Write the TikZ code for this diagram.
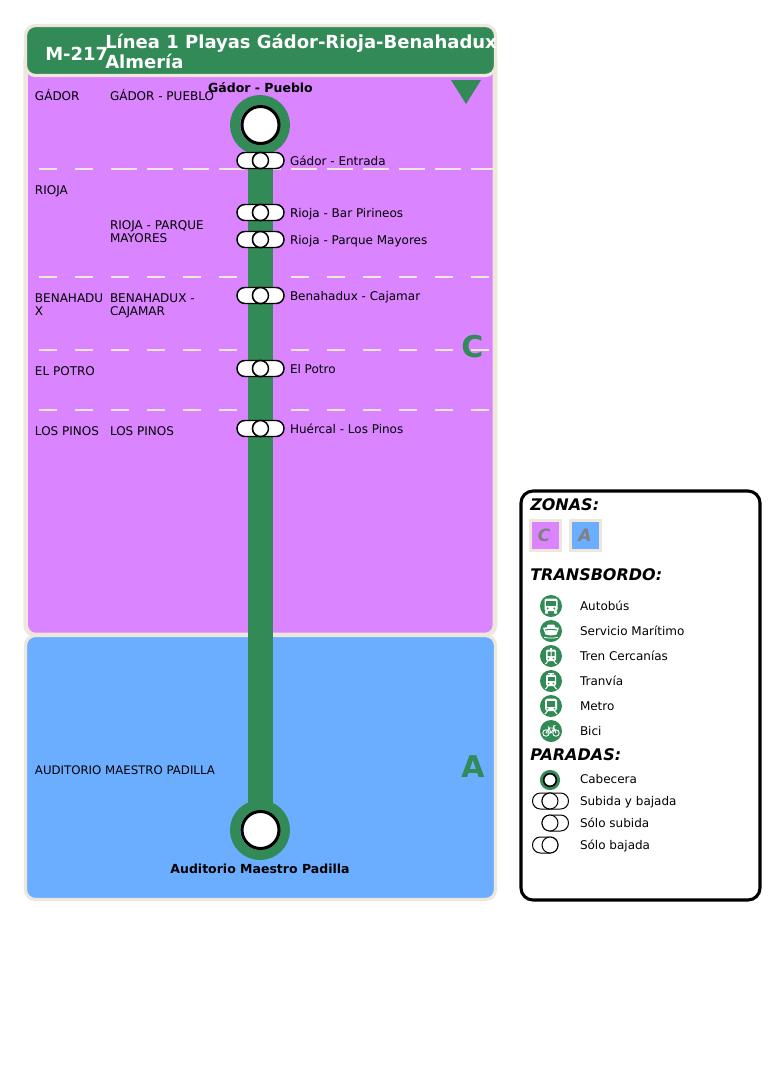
\documentclass[tikz,border=0pt]{standalone}
\usepackage{fontspec}
\setmainfont{DejaVu Sans}
\definecolor{cream}{HTML}{EFE6DC}
\definecolor{zonec}{HTML}{DA84FF}
\definecolor{zonea}{HTML}{6BAEFF}
\definecolor{lineg}{HTML}{328A56}
\newcommand{\fpx}[1]{\fontsize{\the\dimexpr#1pt*3/4\relax}{\the\dimexpr#1pt*9/10\relax}\selectfont}
\newcommand{\iconBus}[1]{\begin{scope}[shift={(#1)}]
 \fill[white,rounded corners=1.5pt] (-6.5,-7.5) rectangle (6.5,5);
 \fill[lineg] (-4.8,-4.8) rectangle (4.8,0.2);
 \fill[lineg] (-3.4,2.4) circle (1.1) (3.4,2.4) circle (1.1);
 \fill[white] (-6,5) rectangle (-3.2,7.5) (3.2,5) rectangle (6,7.5);
\end{scope}}
\newcommand{\iconShip}[1]{\begin{scope}[shift={(#1)}]
 \fill[white,rounded corners=1pt] (-4,-6.5) rectangle (4,-3);
 \fill[white] (-8,-3.2) .. controls (-3,-4.2) and (3,-4.2) .. (8,-3.2) -- (5.5,3.5) .. controls (2,4.6) and (-2,4.6) .. (-5.5,3.5) -- cycle;
 \draw[lineg,line width=.75pt] (-6,-.9) .. controls (-2,-1.8) and (2,-1.8) .. (6,-.9);
 \fill[white] (-7,5.8) .. controls (-3,7) and (3,7) .. (7,5.8) -- (7,6.6) .. controls (3,7.8) and (-3,7.8) .. (-7,6.6) -- cycle;
\end{scope}}
\newcommand{\iconTrain}[1]{\begin{scope}[shift={(#1)}]
 \fill[white] (-1,-8.5) rectangle (1,-6);
 \fill[white,rounded corners=1pt] (-5,-6.5) rectangle (5,5);
 \fill[lineg] (-3.5,-4.5) rectangle (-.5,0) (.5,-4.5) rectangle (3.5,0);
 \fill[lineg] (-2.5,2.5) circle (.9) (2.5,2.5) circle (.9);
 \draw[white,line width=.8pt] (-3,5) -- (-5.5,8) (3,5) -- (5.5,8);
\end{scope}}
\newcommand{\iconTram}[1]{\begin{scope}[shift={(#1)}]
 \draw[white,line width=.6pt] (-3,-8) -- (3,-8);
 \fill[white] (-1,-8) rectangle (1,-6);
 \fill[white,rounded corners=1.5pt] (-5,-6.5) rectangle (5,5);
 \fill[lineg] (-3.5,-4) rectangle (3.5,0);
 \fill[lineg] (-2.5,2.5) circle (.9) (2.5,2.5) circle (.9);
 \draw[white,line width=.8pt] (-3,5) -- (-5.5,8) (3,5) -- (5.5,8);
\end{scope}}
\newcommand{\iconMetro}[1]{\begin{scope}[shift={(#1)}]
 \fill[white,rounded corners=2pt] (-6,-7.5) rectangle (6,5);
 \fill[lineg] (-4,-5) rectangle (4,0.5);
 \fill[lineg] (-3.4,2.7) circle (.9) (3.4,2.7) circle (.9);
 \draw[white,line width=.8pt] (-3.5,5) -- (-6,8) (3.5,5) -- (6,8);
\end{scope}}
\newcommand{\iconBike}[1]{\begin{scope}[shift={(#1)}]
 \draw[white,line width=.7pt] (-5,2) circle (3.2) (5,2) circle (3.2);
 \draw[white,line width=.7pt] (-5,2) -- (-2,-3) -- (3,-3) -- (0,2) -- (-5,2) (3,-3) -- (5,2) (-2,-3) -- (0,2) (3,-3) -- (2.4,-5) -- (4.5,-5.5) (-2,-3) -- (-2.6,-4.5);
\end{scope}}
\tikzset{
 x=0.75pt,y=-0.75pt,
 panel/.style={rounded corners=7.5pt,draw=cream},
 lbl/.style={anchor=base west,inner sep=0pt,outer sep=0pt,font=\fpx{12},text=black},
 boldc/.style={anchor=base,inner sep=0pt,font=\fpx{12.5}\bfseries,text=black},
 head/.style={anchor=base west,inner sep=0pt,font=\fpx{16}\bfseries\itshape,text=black},
 ttl/.style={anchor=base west,inner sep=0pt,font=\fpx{18}\bfseries,text=white},
 zletter/.style={anchor=base west,inner sep=0pt,font=\fpx{30}\bfseries,text=lineg},
 zdash/.style={draw=cream,line width=1.5pt,dash pattern=on 13.5pt off 13.5pt},
 zdashb/.style={draw=cream,line width=1.5pt,dash pattern=on 18.75pt off 8.25pt},
 term/.style={circle,draw=lineg,line width=7.5pt,minimum size=37.5pt,inner sep=0pt,outer sep=0pt},
 termin/.style={circle,fill=white,draw=black,line width=2.25pt,minimum size=27.75pt,inner sep=0pt,outer sep=0pt},
 iconbg/.style={circle,fill=lineg,minimum size=16.5pt,inner sep=0pt,outer sep=0pt},
 pill/.style={fill=white,draw=black,line width=1.1pt,rounded corners=5.9pt},
 kpill/.style={fill=white,draw=black,line width=.75pt,rounded corners=5.9pt},
 stopc/.style={circle,fill=white,draw=black,line width=1.1pt,minimum size=12pt,inner sep=0pt,outer sep=0pt},
 kstop/.style={circle,fill=white,draw=black,line width=.75pt,minimum size=12pt,inner sep=0pt,outer sep=0pt},
 swatch/.style={draw=cream,line width=2.6pt},
 swl/.style={inner sep=0pt,font=\fpx{17}\bfseries\itshape,text=gray},
}
\newcommand{\stopmark}[3]{% name, x, y : pills and circle
 \draw[pill] (#2-23.5,#3-8) rectangle (#2+8,#3+8);
 \draw[pill] (#2-8,#3-8) rectangle (#2+23.5,#3+8);
 \node[stopc] (#1) at (#2,#3) {};}
\begin{document}
\begin{tikzpicture}
\useasboundingbox (0,0) rectangle (780,1065);
\fill[white] (0,0) rectangle (780,1065);
% zone panels
\draw[panel,fill=zonec,line width=3.4pt] (25.7,50) rectangle (495,635);
\draw[panel,fill=zonea,line width=2.4pt] (25.5,635.5) rectangle (495.5,899.5);
\draw[panel,fill=lineg,line width=2.4pt] (25.5,25.5) rectangle (495.5,75.5);
% zone separators
\foreach \y in {169.3,277.3,350.3,410.3}{\draw[zdash] (39,\y) -- (490,\y);}
\draw[zdashb] (112,169.3) -- (493,169.3);
% header
\node[ttl] (hcode) at (45,60) {M-217};
\node[ttl] (ht1) at (105,48) {Línea 1 Playas Gádor-Rioja-Benahadux};
\node[ttl] (ht2) at (105,68) {Almería};
\fill[lineg] (451,80) -- (481,80) -- (466,104) -- cycle;
% line
\node[term] (t1) at (260,125) {};
\node[term] (t2) at (260,830) {};
\draw[lineg,line width=18.75pt] (t1.center) -- (t2.center);
\node[termin] (t1i) at (260.5,125) {};
\node[termin] (t2i) at (260.5,830) {};
\node[boldc] (t1l) at (260.5,92) {Gádor - Pueblo};
\node[boldc] (t2l) at (260,873) {Auditorio Maestro Padilla};
% stops
\stopmark{s1}{260.5}{160.5}
\stopmark{s2}{260.5}{212.5}
\stopmark{s3}{260.5}{239.5}
\stopmark{s4}{260.5}{295.5}
\stopmark{s5}{260.5}{368.5}
\stopmark{s6}{260.5}{428.5}
\node[lbl] (l1) at (290,165) {Gádor - Entrada};
\node[lbl] (l2) at (290,217) {Rioja - Bar Pirineos};
\node[lbl] (l3) at (290,244) {Rioja - Parque Mayores};
\node[lbl] (l4) at (290,300) {Benahadux - Cajamar};
\node[lbl] (l5) at (290,373) {El Potro};
\node[lbl] (l6) at (290,433) {Huércal - Los Pinos};
% left labels
\node[lbl] (a1) at (35,100) {GÁDOR};
\node[lbl] (b1) at (110,100) {GÁDOR - PUEBLO};
\node[lbl] (a2) at (35,194) {RIOJA};
\node[lbl] (b2) at (110,229) {RIOJA - PARQUE};
\node[lbl] (b2b) at (110,242) {MAYORES};
\node[lbl] (a3) at (35,302) {BENAHADU};
\node[lbl] (a3b) at (35,315) {X};
\node[lbl] (b3) at (110,302) {BENAHADUX -};
\node[lbl] (b3b) at (110,315) {CAJAMAR};
\node[lbl] (a4) at (35,375) {EL POTRO};
\node[lbl] (a5) at (35,435) {LOS PINOS};
\node[lbl] (b5) at (110,435) {LOS PINOS};
\node[lbl,font=\fpx{11.75}] (a6) at (35,774) {AUDITORIO MAESTRO PADILLA};
\node[zletter] (zc) at (461,357) {C};
\node[zletter] (za) at (461,777) {A};
% legend
\draw[draw=black,fill=white,line width=2.3pt,rounded corners=9pt] (521,491) rectangle (760,900);
\node[head] (h1) at (530,510) {ZONAS:};
\draw[swatch,fill=zonec] (530.5,520.5) rectangle (560.5,550.5);
\draw[swatch,fill=zonea] (570.5,520.5) rectangle (600.5,550.5);
\node[swl] (sw1) at (544,535) {C};
\node[swl] (sw2) at (585,535) {A};
\node[head] (h2) at (530,580) {TRANSBORDO:};
\node[iconbg] (i1) at (551,606) {}; \iconBus{i1}
\node[iconbg] (i2) at (551,631) {}; \iconShip{i2}
\node[iconbg] (i3) at (551,656) {}; \iconTrain{i3}
\node[iconbg] (i4) at (551,681) {}; \iconTram{i4}
\node[iconbg] (i5) at (551,706) {}; \iconMetro{i5}
\node[iconbg] (i6) at (551,731) {}; \iconBike{i6}
\node[lbl] (il1) at (580,610) {Autobús};
\node[lbl] (il2) at (580,635) {Servicio Marítimo};
\node[lbl] (il3) at (580,660) {Tren Cercanías};
\node[lbl] (il4) at (580,685) {Tranvía};
\node[lbl] (il5) at (580,710) {Metro};
\node[lbl] (il6) at (580,735) {Bici};
\node[head] (h3) at (530,760) {PARADAS:};
\node[circle,draw=lineg,fill=white,line width=2.6pt,minimum size=12.5pt,inner sep=0pt,outer sep=0pt] (k1) at (550,780) {};
\node[circle,draw=black,line width=1.2pt,minimum size=9.5pt,inner sep=0pt,outer sep=0pt] (k1i) at (550,780) {};
\draw[kpill] (532.5,793) rectangle (558,809);
\draw[kpill] (542,793) rectangle (568.5,809);
\node[kstop] (k2) at (550,801) {};
\draw[kpill] (542,815) rectangle (568.5,831);
\node[kstop] (k3) at (550,823) {};
\draw[kpill] (532.5,837) rectangle (558,853);
\node[kstop] (k4) at (550,845) {};
\node[lbl] (kl1) at (580,783) {Cabecera};
\node[lbl] (kl2) at (580,805) {Subida y bajada};
\node[lbl] (kl3) at (580,827) {Sólo subida};
\node[lbl] (kl4) at (580,849) {Sólo bajada};
\end{tikzpicture}
\end{document}
